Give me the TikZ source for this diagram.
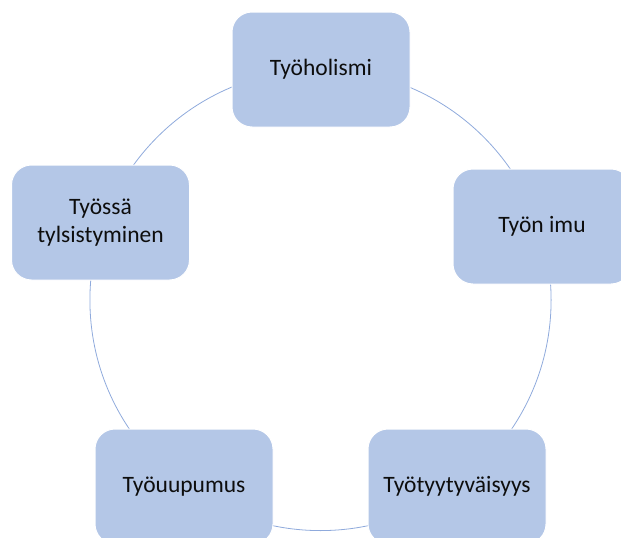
\documentclass[tikz,border=0pt]{standalone}
\usepackage{fontspec}
\setmainfont{Carlito}
\definecolor{boxfill}{HTML}{B4C7E7}
\definecolor{ringcol}{HTML}{8FAADC}
\definecolor{txtcol}{HTML}{0D0D0D}
\begin{document}
\begin{tikzpicture}[x=1pt,y=-1pt,
  cyclebox/.style={draw=white, line width=1pt, fill=boxfill, rounded corners=20pt,
    minimum width=178pt, minimum height=115pt, inner sep=0pt, align=center,
    text=txtcol, font=\fontsize{23.5}{28.5}\selectfont}]
\useasboundingbox (0,0) rectangle (621,538);
\coordinate (c) at (320.5,300);
\draw[ringcol, line width=0.8pt] (c) circle[radius=230.6pt];
\node[cyclebox] (top) at (321,69.5) {Työholismi};
\node[cyclebox] (right) at (542,226.5) {Työn imu};
\node[cyclebox] (br) at (457,486.5) {Työtyytyväisyys};
\node[cyclebox] (bl) at (184,486.5) {Työuupumus};
\node[cyclebox] (left) at (100.5,222.5) {Työssä\\tylsistyminen};
\end{tikzpicture}
\end{document}
